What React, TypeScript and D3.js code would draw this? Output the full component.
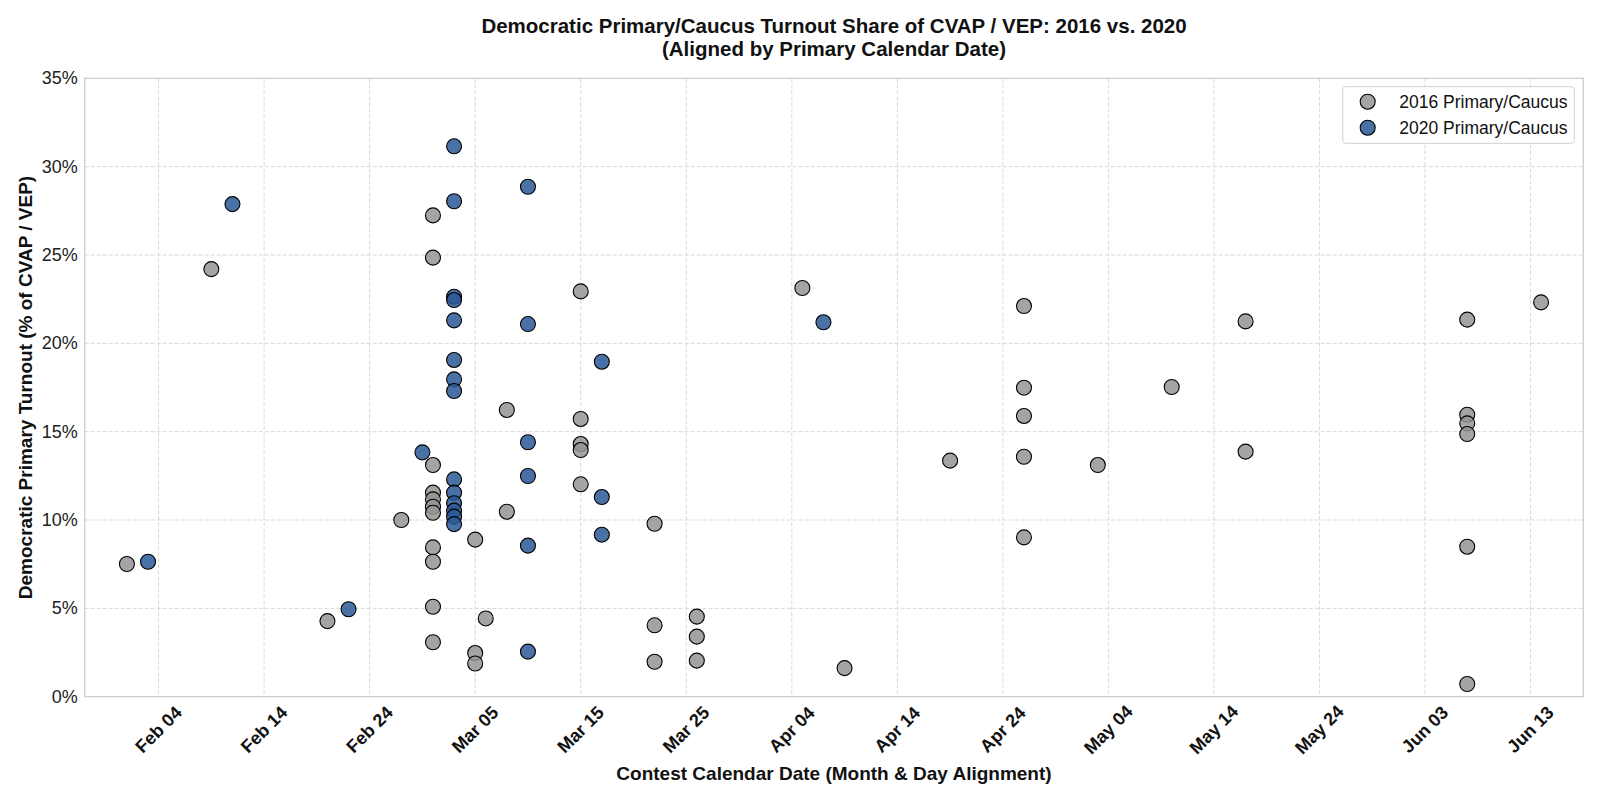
import { useRef, useEffect } from 'react';
import * as d3 from 'd3';

// month-day of each contest, aligned onto the 2020 calendar (leap year)
const dates2016 = [
    '02-01', '02-09', '02-20', '02-27',
    '03-01', '03-01', '03-01', '03-01', '03-01', '03-01', '03-01', '03-01', '03-01', '03-01', '03-01',
    '03-05', '03-05', '03-05', '03-06', '03-08', '03-08',
    '03-15', '03-15', '03-15', '03-15', '03-15',
    '03-22', '03-22', '03-22', '03-26', '03-26', '03-26',
    '04-05', '04-09', '04-19',
    '04-26', '04-26', '04-26', '04-26', '04-26',
    '05-03', '05-10', '05-17', '05-17',
    '06-07', '06-07', '06-07', '06-07', '06-07', '06-07', '06-14',
];
const turnout2016 = [
    7.51, 24.2, 4.28, 10.0,
    27.24, 24.85, 13.11, 11.55, 11.17, 10.75, 10.41, 8.45, 7.64, 5.09, 3.08,
    8.89, 2.47, 1.88, 4.43, 16.23, 10.47,
    22.94, 15.72, 14.3, 13.96, 12.02,
    9.79, 4.04, 1.98, 4.53, 3.4, 2.04,
    23.13, 1.62, 13.36,
    22.11, 17.49, 15.89, 13.58, 9.02,
    13.11, 17.53, 21.24, 13.87,
    21.34, 15.96, 15.47, 14.87, 8.49, 0.72, 22.32,
];

const dates2020 = [
    '02-03', '02-11', '02-22', '02-29',
    '03-03', '03-03', '03-03', '03-03', '03-03', '03-03', '03-03',
    '03-03', '03-03', '03-03', '03-03', '03-03', '03-03', '03-03',
    '03-10', '03-10', '03-10', '03-10', '03-10', '03-10',
    '03-17', '03-17', '03-17', '04-07',
];
const turnout2020 = [
    7.64, 27.88, 4.95, 13.83,
    31.15, 28.04, 22.64, 22.45, 21.3, 19.06, 17.96,
    17.3, 12.3, 11.55, 10.95, 10.53, 10.19, 9.77,
    28.86, 21.09, 14.4, 12.49, 8.55, 2.55,
    18.96, 11.3, 9.17, 21.19,
];

const xTickDates = ['02-04', '02-14', '02-24', '03-05', '03-15', '03-25', '04-04',
    '04-14', '04-24', '05-04', '05-14', '05-24', '06-03', '06-13'];
const yTicks = [0, 5, 10, 15, 20, 25, 30, 35];
const xRange = ['01-28', '06-18'];

const seriesNames = ['2016 Primary/Caucus', '2020 Primary/Caucus'];
const seriesColors = ['#949494', '#2a5896'];

const FONT = '"Liberation Sans", Arial, sans-serif';
const parseMD = (md: string) => d3.timeParse('%Y-%m-%d')(`2020-${md}`) as Date;

export default function App() {
    const svgRef = useRef<SVGSVGElement>(null);

    useEffect(() => {
        if (!svgRef.current) return;
        const width = 1600;
        const height = 800;
        const margin = { top: 78.3, right: 16.7, bottom: 103.3, left: 84.7 };
        const chartWidth = width - margin.left - margin.right;
        const chartHeight = height - margin.top - margin.bottom;

        const svg = d3.select(svgRef.current);
        svg.selectAll('*').remove();
        svg.attr('width', width).attr('height', height)
            .style('font-family', FONT);

        svg.append('rect').attr('width', width).attr('height', height).attr('fill', '#fff');

        const g = svg.append('g')
            .attr('transform', `translate(${margin.left},${margin.top})`);

        // Scales
        const x = d3.scaleTime()
            .domain(xRange.map(parseMD) as [Date, Date])
            .range([0, chartWidth]);
        const y = d3.scaleLinear()
            .domain([0, 35])
            .range([chartHeight, 0]);

        const tickDates = xTickDates.map(parseMD);

        // Grid lines
        g.append('g')
            .selectAll('line')
            .data(tickDates)
            .enter()
            .append('line')
            .attr('x1', d => x(d)).attr('x2', d => x(d))
            .attr('y1', 0).attr('y2', chartHeight)
            .attr('stroke', '#d9d9d9')
            .attr('stroke-width', 1)
            .attr('stroke-dasharray', '4,2');

        g.append('g')
            .selectAll('line')
            .data(yTicks.slice(1, -1))
            .enter()
            .append('line')
            .attr('x1', 0).attr('x2', chartWidth)
            .attr('y1', d => y(d)).attr('y2', d => y(d))
            .attr('stroke', '#d9d9d9')
            .attr('stroke-width', 1)
            .attr('stroke-dasharray', '4,2');

        // Frame
        g.append('rect')
            .attr('width', chartWidth)
            .attr('height', chartHeight)
            .attr('fill', 'none')
            .attr('stroke', '#cccccc')
            .attr('stroke-width', 1.25);

        // Points
        const series = [
            { dates: dates2016, values: turnout2016 },
            { dates: dates2020, values: turnout2020 },
        ];
        series.forEach((s, i) => {
            g.append('g')
                .selectAll('circle')
                .data(s.values)
                .enter()
                .append('circle')
                .attr('cx', (_, j) => x(parseMD(s.dates[j])))
                .attr('cy', d => y(d))
                .attr('r', 7.5)
                .attr('fill', seriesColors[i])
                .attr('fill-opacity', 0.85)
                .attr('stroke', '#000')
                .attr('stroke-width', 1.1);
        });

        // X tick labels (rotated 45°, centred on tick)
        const fmt = d3.timeFormat('%b %d');
        g.append('g')
            .selectAll('text')
            .data(tickDates)
            .enter()
            .append('text')
            .attr('transform', d => `translate(${x(d)},${chartHeight + 33}) rotate(-45)`)
            .attr('text-anchor', 'middle')
            .attr('dominant-baseline', 'central')
            .attr('fill', '#111')
            .style('font-size', '18px')
            .style('font-weight', 'bold')
            .text(d => fmt(d));

        // Y tick labels
        g.append('g')
            .selectAll('text')
            .data(yTicks)
            .enter()
            .append('text')
            .attr('x', -7)
            .attr('y', d => y(d))
            .attr('text-anchor', 'end')
            .attr('dominant-baseline', 'central')
            .attr('fill', '#222')
            .style('font-size', '18px')
            .text(d => `${d}%`);

        // Axis titles
        svg.append('text')
            .attr('x', margin.left + chartWidth / 2)
            .attr('y', 780)
            .attr('text-anchor', 'middle')
            .attr('fill', '#111')
            .style('font-size', '19px')
            .style('font-weight', 'bold')
            .text('Contest Calendar Date (Month & Day Alignment)');

        svg.append('text')
            .attr('transform', `translate(32,${margin.top + chartHeight / 2}) rotate(-90)`)
            .attr('text-anchor', 'middle')
            .attr('fill', '#111')
            .style('font-size', '19px')
            .style('font-weight', 'bold')
            .text('Democratic Primary Turnout (% of CVAP / VEP)');

        // Title
        const title = svg.append('text')
            .attr('text-anchor', 'middle')
            .attr('fill', '#111')
            .style('font-size', '20.5px')
            .style('font-weight', 'bold');
        title.append('tspan')
            .attr('x', margin.left + chartWidth / 2).attr('y', 33)
            .text('Democratic Primary/Caucus Turnout Share of CVAP / VEP: 2016 vs. 2020');
        title.append('tspan')
            .attr('x', margin.left + chartWidth / 2).attr('y', 55.5)
            .text('(Aligned by Primary Calendar Date)');

        // Legend
        const legend = svg.append('g')
            .attr('transform', 'translate(1342.7, 86.7)');
        legend.append('rect')
            .attr('width', 231.6)
            .attr('height', 56.6)
            .attr('rx', 3)
            .attr('fill', '#fff')
            .attr('fill-opacity', 0.85)
            .attr('stroke', '#d0d0d0');
        seriesNames.forEach((name, i) => {
            legend.append('circle')
                .attr('cx', 25)
                .attr('cy', 15 + i * 26)
                .attr('r', 7.5)
                .attr('fill', seriesColors[i])
                .attr('fill-opacity', 0.85)
                .attr('stroke', '#000')
                .attr('stroke-width', 1.1);
            legend.append('text')
                .attr('x', 56.6)
                .attr('y', 15 + i * 26)
                .attr('dominant-baseline', 'central')
                .attr('fill', '#111')
                .style('font-size', '17.5px')
                .text(name);
        });
    }, []);

    return (
        <div style={{ position: 'absolute', left: 0, top: 0 }}>
            <svg ref={svgRef} style={{ display: 'block' }}></svg>
        </div>
    );
}
